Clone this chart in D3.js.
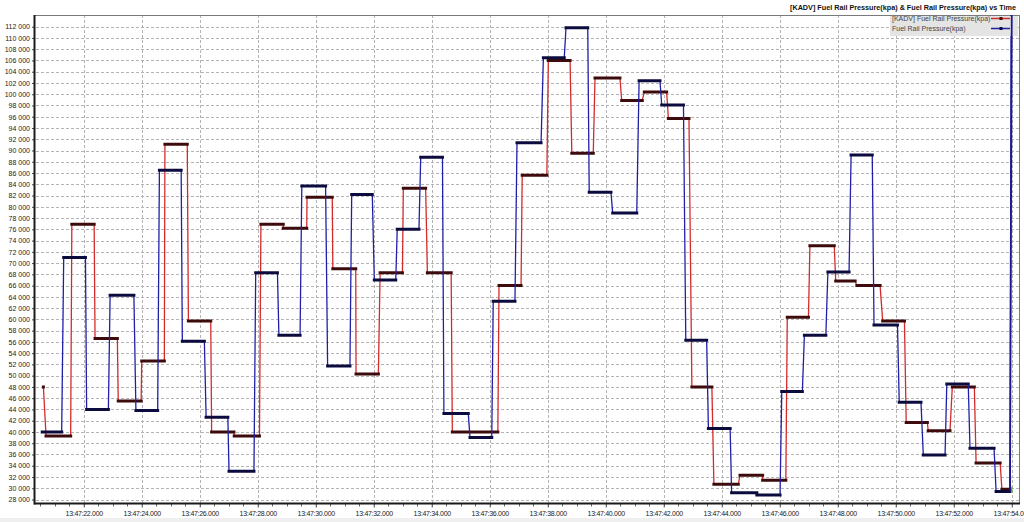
<!DOCTYPE html>
<html>
<head>
<meta charset="utf-8">
<script src="https://cdn.jsdelivr.net/npm/d3@7"></script>
<style>
  html, body { margin: 0; padding: 0; background: #fff; }
  svg { display: block; font-family: "Liberation Sans", Arial, sans-serif; }
</style>
</head>
<body>
<svg id="chart" width="1024" height="522"></svg>
<script>
// ---------- DATA (seconds after 13:47:00, values in kPa) ----------
const chartTitle = "[KADV] Fuel Rail Pressure(kpa) & Fuel Rail Pressure(kpa) vs Time";
const seriesNames = ["[KADV] Fuel Rail Pressure(kpa)", "Fuel Rail Pressure(kpa)"];

// [KADV] Fuel Rail Pressure (red): each held value with start / end time
const redStart = [20.61, 20.70, 21.59, 22.39, 23.19, 24.00, 24.80, 25.61, 26.41, 27.19,
                  28.11, 28.88, 29.70, 30.59, 31.39, 32.22, 33.02, 33.85, 34.71, 36.32,
                  37.12, 38.02, 38.83, 39.63, 40.55, 41.33, 42.16, 42.97, 43.73, 44.63,
                  45.41, 46.26, 47.04, 47.93, 48.66, 49.55, 50.36, 51.12, 51.95, 52.77, 53.66];
const redEnd   = [20.61, 21.55, 22.36, 23.16, 23.98, 24.78, 25.57, 26.38, 27.18, 28.06,
                  28.88, 29.69, 30.57, 31.38, 32.16, 32.99, 33.79, 34.67, 36.28, 37.08,
                  37.97, 38.77, 39.57, 40.49, 41.26, 42.10, 42.87, 43.66, 44.57, 45.41,
                  46.21, 46.99, 47.88, 48.60, 49.46, 50.30, 51.09, 51.87, 52.71, 53.60, 53.94];
const redValues = [48000, 39300, 76900, 56600, 45500, 52600, 91100, 59700, 40000, 39300,
                   76900, 76200, 81700, 69000, 50300, 68300, 83300, 68300, 40000, 66000,
                   85600, 106000, 89500, 102900, 98900, 100400, 95700, 48000, 30700, 32300,
                   31400, 60400, 73100, 66800, 66000, 59700, 41700, 40200, 48000, 34500, 29800];

// Fuel Rail Pressure (blue)
const blueStart = [20.57, 21.31, 22.10, 22.91, 23.80, 24.61, 25.40, 26.22, 27.01, 27.93,
                   28.73, 29.52, 30.41, 31.24, 32.02, 32.81, 33.62, 34.42, 35.32, 36.12,
                   36.94, 37.85, 38.63, 39.43, 40.24, 41.15, 41.93, 42.76, 43.54, 44.34,
                   45.21, 46.07, 46.85, 47.66, 48.46, 49.25, 50.12, 50.95, 51.76, 52.56, 53.46, 54.00];
const blueEnd   = [21.24, 22.06, 22.85, 23.73, 24.55, 25.36, 26.16, 26.97, 27.87, 28.68,
                   29.46, 30.34, 31.18, 31.95, 32.76, 33.56, 34.37, 35.26, 36.07, 36.87,
                   37.77, 38.57, 39.38, 40.18, 41.07, 41.87, 42.68, 43.48, 44.29, 45.21,
                   46.01, 46.78, 47.59, 48.39, 49.19, 50.06, 50.87, 51.70, 52.50, 53.39, 53.94, 54.00];
const blueValues = [40000, 71000, 44000, 64300, 43800, 86500, 56100, 42600, 33000, 68300,
                    57200, 83700, 51700, 82200, 67000, 76000, 88800, 43300, 39000, 63200,
                    91400, 106500, 111800, 82600, 78900, 102400, 98100, 56300, 40600, 29200,
                    28800, 47200, 57200, 68400, 89200, 59000, 45300, 35900, 48500, 37100, 29400, 160000];

// Axes
const yTickValues = [28000, 30000, 32000, 34000, 36000, 38000, 40000, 42000, 44000, 46000,
                     48000, 50000, 52000, 54000, 56000, 58000, 60000, 62000, 64000, 66000,
                     68000, 70000, 72000, 74000, 76000, 78000, 80000, 82000, 84000, 86000,
                     88000, 90000, 92000, 94000, 96000, 98000, 100000, 102000, 104000, 106000,
                     108000, 110000, 112000];
const xTickSeconds = [22, 24, 26, 28, 30, 32, 34, 36, 38, 40, 42, 44, 46, 48, 50, 52, 54];
const timeDomainSeconds = [20.32, 54.25];
const valueDomain = [28000, 112000];

// ---------- DRAW ----------
const svg = d3.select("#chart");
const W = 1024, H = 522;
const plot = { left: 35, right: 1019, top: 15, bottom: 503.5 };

const base = new Date(2020, 0, 1, 13, 47, 0, 0);
const toDate = s => new Date(base.getTime() + Math.round(s * 1000));

const x = d3.scaleTime()
  .domain(timeDomainSeconds.map(toDate))
  .range([plot.left, plot.right]);
const y = d3.scaleLinear()
  .domain(valueDomain)
  .range([499.5, 26.7]);

svg.append("rect").attr("width", W).attr("height", H).attr("fill", "#fff");
svg.append("rect").attr("x", 0).attr("y", 518).attr("width", W).attr("height", 4).attr("fill", "#efefef");

// clip
svg.append("defs").append("clipPath").attr("id", "clip")
  .append("rect").attr("x", plot.left).attr("y", plot.top)
  .attr("width", plot.right - plot.left).attr("height", plot.bottom - plot.top);

// horizontal grid
const grid = svg.append("g");
grid.selectAll("line.h").data(yTickValues).join("line")
  .attr("x1", plot.left + 1).attr("x2", plot.right)
  .attr("y1", d => Math.round(y(d)) + 0.5).attr("y2", d => Math.round(y(d)) + 0.5)
  .attr("stroke", "#b4b4b4").attr("stroke-width", 1).attr("stroke-dasharray", "3,2");
// vertical grid
grid.selectAll("line.v").data(xTickSeconds).join("line")
  .attr("x1", d => Math.round(x(toDate(d))) + 0.5).attr("x2", d => Math.round(x(toDate(d))) + 0.5)
  .attr("y1", plot.top).attr("y2", plot.bottom)
  .attr("stroke", "#b4b4b4").attr("stroke-width", 1).attr("stroke-dasharray", "3,2");

// frame top / right
svg.append("line").attr("x1", plot.left).attr("x2", plot.right).attr("y1", plot.top + 0.5).attr("y2", plot.top + 0.5)
  .attr("stroke", "#7a7a7a");
svg.append("line").attr("x1", plot.right + 0.5).attr("x2", plot.right + 0.5).attr("y1", plot.top).attr("y2", plot.bottom)
  .attr("stroke", "#7a7a7a");

// Y axis
const yAxis = d3.axisLeft(y).tickValues(yTickValues).tickSize(3).tickPadding(2)
  .tickFormat(d => d3.format(",")(d).replace(/,/g, " "));
const gy = svg.append("g").attr("transform", `translate(${plot.left},0)`).call(yAxis);
gy.select(".domain").remove();
gy.selectAll(".tick line").attr("stroke", "#444");
gy.selectAll(".tick text").attr("font-size", "7px").attr("fill", "#222")
  .attr("font-family", "'Liberation Sans', Arial, sans-serif");

// X axis
const xAxis = d3.axisBottom(x).tickValues(xTickSeconds.map(toDate)).tickSize(4).tickPadding(4)
  .tickFormat(d3.timeFormat("%H:%M:%S.%L"));
const gx = svg.append("g").attr("transform", `translate(0,${plot.bottom})`).call(xAxis);
gx.select(".domain").remove();
gx.selectAll(".tick line").attr("stroke", "#555");
gx.selectAll(".tick text").attr("font-size", "7px").attr("fill", "#222")
  .attr("letter-spacing", "-0.3px")
  .attr("font-family", "'Liberation Sans', Arial, sans-serif");
// minor ticks every 0.5 s
const minor = x.ticks(d3.timeMillisecond.every(500));
svg.append("g").selectAll("line").data(minor).join("line")
  .attr("x1", d => Math.round(x(d)) + 0.5).attr("x2", d => Math.round(x(d)) + 0.5)
  .attr("y1", plot.bottom).attr("y2", plot.bottom + 3)
  .attr("stroke", "#666");

// axis lines (thick)
svg.append("line").attr("x1", 34.5).attr("x2", 34.5).attr("y1", plot.top).attr("y2", plot.bottom + 1)
  .attr("stroke", "#1a1a1a").attr("stroke-width", 2);
svg.append("line").attr("x1", 34).attr("x2", plot.right + 1).attr("y1", plot.bottom).attr("y2", plot.bottom)
  .attr("stroke", "#1a1a1a").attr("stroke-width", 2);

// series
function buildPoints(starts, ends, vals) {
  const pts = [];
  for (let i = 0; i < vals.length; i++) {
    pts.push([starts[i], vals[i]]);
    pts.push([ends[i], vals[i]]);
  }
  return pts;
}
const line = d3.line().x(d => x(toDate(d[0]))).y(d => y(d[1]));
const series = [
  { starts: redStart, ends: redEnd, vals: redValues, color: "#d42a2a", dark: "#3d0b0b" },
  { starts: blueStart, ends: blueEnd, vals: blueValues, color: "#1f1fa8", dark: "#0b0b3e" }
];
const plotG = svg.append("g").attr("clip-path", "url(#clip)");
series.forEach(s => {
  const pts = buildPoints(s.starts, s.ends, s.vals);
  plotG.append("path").datum(pts).attr("d", line)
    .attr("fill", "none").attr("stroke", s.color).attr("stroke-width", 1.3);
  plotG.append("g").selectAll("line").data(s.vals.map((v, i) => ({ a: s.starts[i], b: s.ends[i], v })))
    .join("line")
    .attr("x1", d => x(toDate(d.a))).attr("x2", d => x(toDate(d.b)))
    .attr("y1", d => y(d.v)).attr("y2", d => y(d.v))
    .attr("stroke", s.dark).attr("stroke-width", 3).attr("stroke-linecap", "square");
});
// small end cursor mark
plotG.append("rect").attr("x", x(toDate(54.0)) - 1).attr("y", y(29600) - 4).attr("width", 2).attr("height", 6)
  .attr("fill", "#5ab04a").attr("opacity", 0.7);

// legend
const lg = svg.append("g");
lg.append("rect").attr("x", 890).attr("y", 16).attr("width", 128).attr("height", 20).attr("fill", "#e4e4e4");
seriesNames.forEach((name, i) => {
  const yy = 18.5 + i * 10;
  lg.append("text").attr("x", 892).attr("y", yy + 2.5).attr("font-size", "7px").attr("fill", "#444")
    .text(name);
  lg.append("line").attr("x1", 991).attr("x2", 1010).attr("y1", yy).attr("y2", yy)
    .attr("stroke", series[i].color).attr("stroke-width", 1.5);
  lg.append("rect").attr("x", 999.5).attr("y", yy - 1.5).attr("width", 3).attr("height", 3)
    .attr("fill", series[i].dark);
});

// redraw the final blue jump over the legend
svg.append("line")
  .attr("x1", x(toDate(53.94))).attr("x2", x(toDate(54.0)))
  .attr("y1", y(29400)).attr("y2", plot.top)
  .attr("stroke", "#1a1a90").attr("stroke-width", 1.8);

// title
svg.append("text").attr("x", 1016).attr("y", 10).attr("text-anchor", "end")
  .attr("font-size", "8px").attr("font-weight", "bold").attr("fill", "#111")
  .attr("textLength", 226).attr("lengthAdjust", "spacingAndGlyphs")
  .text(chartTitle);
</script>
</body>
</html>
